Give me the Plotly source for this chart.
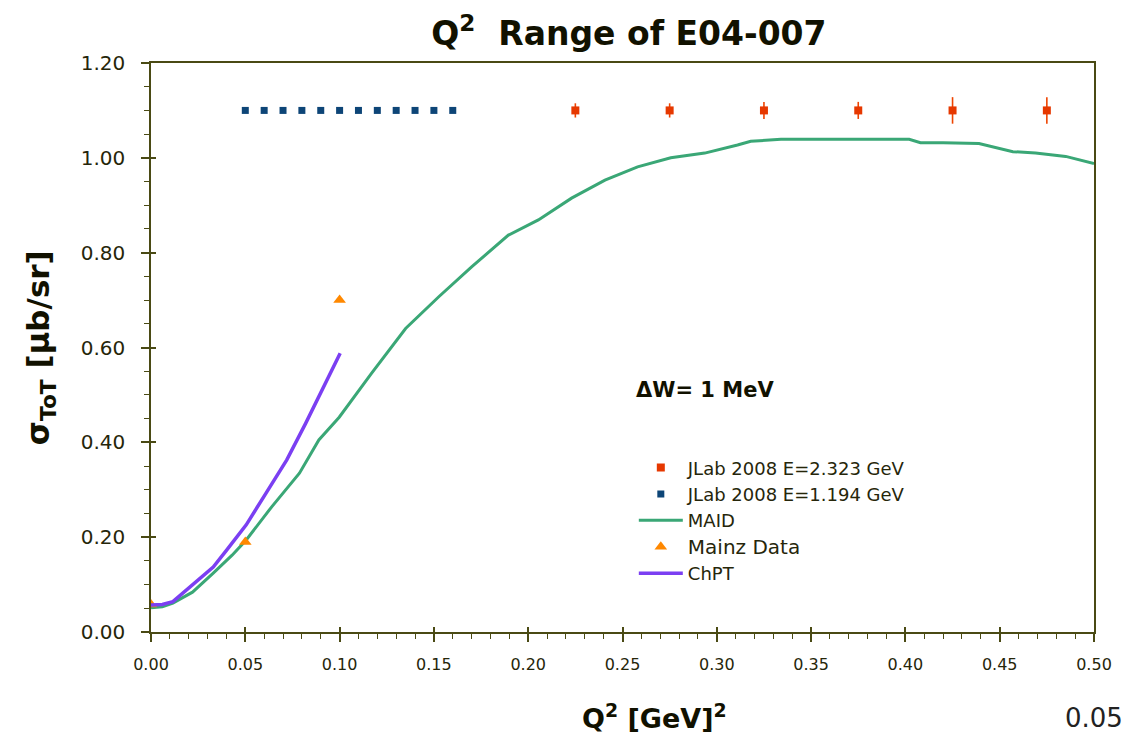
import plotly.graph_objects as go

# ---- data -------------------------------------------------------------
# MAID model curve
maid_q2 = [0.0, 0.006, 0.0116, 0.022, 0.033, 0.043, 0.0505, 0.064, 0.0787, 0.089,
           0.0998, 0.117, 0.135, 0.1526, 0.170, 0.1895, 0.2054, 0.223, 0.2407,
           0.258, 0.2756, 0.2936, 0.311, 0.318, 0.334, 0.36, 0.38, 0.402, 0.408,
           0.42, 0.439, 0.457, 0.469, 0.485, 0.50]
maid_sigma = [0.051, 0.053, 0.061, 0.084, 0.124, 0.162, 0.194, 0.264, 0.335, 0.405,
              0.453, 0.546, 0.640, 0.707, 0.770, 0.837, 0.869, 0.915, 0.953,
              0.981, 1.000, 1.010, 1.027, 1.035, 1.039, 1.039, 1.039, 1.039, 1.032,
              1.032, 1.030, 1.013, 1.010, 1.003, 0.988]

# ChPT curve
chpt_q2 = [0.0, 0.006, 0.0116, 0.022, 0.033, 0.040, 0.0505, 0.061, 0.072, 0.082,
           0.093, 0.1003]
chpt_sigma = [0.057, 0.058, 0.064, 0.100, 0.137, 0.172, 0.226, 0.293, 0.363, 0.440,
              0.531, 0.588]

# Mainz data
mainz_q2 = [0.0, 0.05, 0.10]
mainz_sigma = [0.058, 0.19, 0.70]

# JLab 2008 kinematic coverage
jlab_low_q2 = [0.05, 0.06, 0.07, 0.08, 0.09, 0.10, 0.11, 0.12, 0.13, 0.14, 0.15, 0.16]
jlab_low_sigma = [1.10] * 12

jlab_high_q2 = [0.225, 0.275, 0.325, 0.375, 0.425, 0.475]
jlab_high_sigma = [1.10, 1.10, 1.10, 1.10, 1.10, 1.10]
jlab_high_err = [0.015, 0.015, 0.018, 0.018, 0.028, 0.028]

x_ticks = [0.00, 0.05, 0.10, 0.15, 0.20, 0.25, 0.30, 0.35, 0.40, 0.45, 0.50]
y_ticks = [0.00, 0.20, 0.40, 0.60, 0.80, 1.00, 1.20]

# ---- styling ----------------------------------------------------------
FONT = "DejaVu Sans"
AXIS_COL = "#4a4a14"
TEXT_COL = "#26260a"

fig = go.Figure()

fig.add_trace(go.Scatter(
    x=jlab_high_q2, y=jlab_high_sigma, mode="markers",
    name="JLab 2008 E=2.323 GeV", legendgroup="a",
    marker=dict(symbol="square", size=8, color="#e63800"),
    error_y=dict(type="data", array=jlab_high_err, color="#ee4400",
                 thickness=1.6, width=0),
))
fig.add_trace(go.Scatter(
    x=jlab_low_q2, y=jlab_low_sigma, mode="markers",
    name="JLab 2008 E=1.194 GeV", legendgroup="b",
    marker=dict(symbol="square", size=7, color="#0d4577"),
))
fig.add_trace(go.Scatter(
    x=maid_q2, y=maid_sigma, mode="lines",
    name="MAID", legendgroup="c",
    line=dict(color="#3aa776", width=3),
))
fig.add_trace(go.Scatter(
    x=mainz_q2, y=mainz_sigma, mode="markers",
    name="<span style='font-size:20px'>Mainz Data</span>", legendgroup="d",
    marker=dict(symbol="triangle-up", size=11, color="#ff8800"),
))
fig.add_trace(go.Scatter(
    x=chpt_q2, y=chpt_sigma, mode="lines",
    name="ChPT", legendgroup="e",
    line=dict(color="#7b3ff2", width=3.5),
))

common_axis = dict(
    showgrid=False, zeroline=False, showline=True, linecolor=AXIS_COL,
    linewidth=1.5, mirror=True, ticks="outside", tickcolor=AXIS_COL,
    tickwidth=1.5, ticklen=8, tickformat=".2f",
)

fig.update_layout(
    width=1124, height=735,
    paper_bgcolor="white", plot_bgcolor="white",
    margin=dict(l=151, r=26, t=63, b=103),
    font=dict(family=FONT, color=TEXT_COL),
    title=dict(text="<b>Q<sup>2</sup>  Range of E04-007</b>",
               x=0.5595, xanchor="center", y=0.955, yanchor="middle",
               font=dict(size=33, color="#111100")),
    xaxis=dict(range=[0, 0.5], tickvals=x_ticks,
               tickfont=dict(size=16, color=TEXT_COL), ticklabelstandoff=9,
               minor=dict(dtick=0.01, ticks="outside", ticklen=5,
                          tickcolor=AXIS_COL, tickwidth=1.2),
               **common_axis),
    yaxis=dict(range=[0, 1.2], tickvals=y_ticks,
               tickfont=dict(size=20, color=TEXT_COL), ticklabelstandoff=12,
               minor=dict(dtick=0.05, ticks="outside", ticklen=5,
                          tickcolor=AXIS_COL, tickwidth=1.2),
               **common_axis),
    # companion axes give the major ticks their inner half
    xaxis2=dict(range=[0, 0.5], overlaying="x", side="bottom", anchor="y",
                tickvals=x_ticks, ticks="inside", ticklen=5, tickwidth=1.5,
                tickcolor=AXIS_COL, showticklabels=False, showgrid=False,
                zeroline=False, showline=False),
    yaxis2=dict(range=[0, 1.2], overlaying="y", side="left", anchor="x",
                tickvals=y_ticks, ticks="inside", ticklen=5, tickwidth=1.5,
                tickcolor=AXIS_COL, showticklabels=False, showgrid=False,
                zeroline=False, showline=False),
    showlegend=True,
    legend=dict(x=0.512, y=0.321, xanchor="left", yanchor="top",
                bgcolor="rgba(0,0,0,0)", tracegroupgap=0,
                font=dict(size=18, color=TEXT_COL, family=FONT),
                itemwidth=44),
)

# invisible trace to activate the companion axes
fig.add_trace(go.Scatter(x=[None], y=[None], xaxis="x2", yaxis="y2",
                         showlegend=False, hoverinfo="skip"))

fig.add_annotation(text="<b>σ<sub>ToT</sub> [μb/sr]</b>", textangle=-90,
                   xref="paper", yref="paper", x=-0.117, y=0.5,
                   xanchor="center", yanchor="middle", showarrow=False,
                   font=dict(size=31, color="#111100"))
fig.add_annotation(text="<b>Q<sup>2</sup> [GeV]<sup>2</sup></b>",
                   xref="paper", yref="paper", x=0.534, y=0, yshift=-84,
                   xanchor="center", yanchor="middle", showarrow=False,
                   font=dict(size=27, color="#111100"))
fig.add_annotation(text="<b>ΔW= 1 MeV</b>",
                   xref="paper", yref="paper", x=0.587, y=0.425,
                   xanchor="center", yanchor="middle", showarrow=False,
                   font=dict(size=21, color="#111100"))
fig.add_annotation(text="0.05",
                   xref="paper", yref="paper", x=0.967, y=0, yshift=-86,
                   xanchor="left", yanchor="middle", showarrow=False,
                   font=dict(size=26, color="#222222"))

fig.write_html("out.html")
